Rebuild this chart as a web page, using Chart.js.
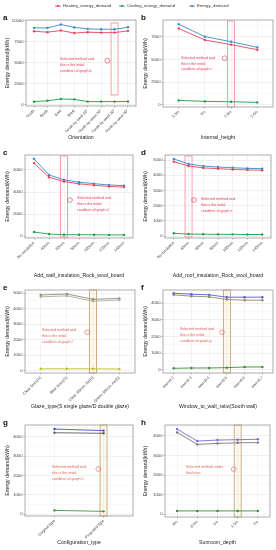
<!DOCTYPE html>
<html><head><meta charset="utf-8">
<script src="https://cdn.jsdelivr.net/npm/chart.js@4.4.1/dist/chart.umd.min.js"></script>
<style>
html,body{margin:0;padding:0;background:#fff;width:276px;height:550px;overflow:hidden;font-family:"Liberation Sans",Arial,sans-serif;}
.cv{position:absolute;}
.lab{position:absolute;font-weight:bold;font-size:8px;color:#111;line-height:8px;}
</style></head><body>
<div class="cv" style="left:0;top:0;width:276px;height:12px"><canvas id="legend" width="276" height="12" style="width:276px;height:12px"></canvas></div>
<div id="root"></div>
<script>
// ---------------- DATA ----------------
const seriesNames = ['Heating_energy_demand','Cooling_energy_demand','Energy_demand'];

const orientationCats = ['South','North','East','West','South by west 10°','South by west 20°','South by west 30°','South by west 40°'];
const orientationHeating = [8770,8650,8850,8550,8650,8600,8600,8810];
const orientationCooling = [395,510,710,670,400,400,400,420];
const orientationEnergy  = [9165,9160,9560,9220,9050,9000,9000,9230];

const heightCats = ['3.3m','3m','2.8m','2.6m'];
const heightHeating = [8410,7140,6630,6070];
const heightCooling = [480,370,330,260];
const heightEnergy  = [8890,7510,6960,6330];

const wallCats = ['No insulation','40mm','60mm','80mm','100mm','120mm','140mm'];
const wallHeating = [6620,5340,4950,4740,4620,4510,4450];
const wallCooling = [390,210,150,150,140,130,130];
const wallEnergy  = [7000,5550,5100,4890,4760,4640,4580];

const roofCats = ['No insulation','40mm','60mm','80mm','100mm','120mm','140mm'];
const roofHeating = [4890,4610,4480,4430,4380,4350,4330];
const roofCooling = [180,130,120,110,110,100,100];
const roofEnergy  = [5070,4740,4600,4540,4490,4450,4430];

const glazeCats = ['Clear 6mm(S)','Blue 6mm(S)','Clear 3/6mm Air(D)','Green 3/6mm Air(D)'];
const glazeHeating = [4770,4830,4490,4560];
const glazeCooling = [120,120,120,110];
const glazeEnergy  = [4890,4950,4610,4670];

const wwrCats = ['wwr=0.2','wwr=0.3','wwr=0.4','wwr=0.5','wwr=0.6','wwr=0.7'];
const wwrHeating = [4500,4420,4380,4220,4180,4180];
const wwrCooling = [100,120,120,140,180,180];
const wwrEnergy  = [4600,4540,4500,4360,4360,4360];

const configCats = ['Original type','Proposed type'];
const configHeating = [4210,4180];
const configCooling = [190,140];
const configEnergy  = [4400,4320];

const sunroomCats = ['0m','0.5m','1m','1.5m','2m'];
const sunroomHeating = [4180,3570,3620,3650,3660];
const sunroomCooling = [170,170,170,170,170];
const sunroomEnergy  = [4350,3740,3790,3810,3830];

const xTitles = ['Orientation','Internal_height','Add_wall_insulation_Rock_wool_board','Add_roof_insulation_Rock_wool_board',
  'Glaze_type(S single glaze/D double glaze)','Window_to_wall_ratio(South wall)','Configuration_type','Sunroom_depth'];
const yTitle = 'Energy demand(kWh)';
const panelLetters = ['a','b','c','d','e','f','g','h'];
const noteTexts = [
  ['Selected method and','this is the initial','condition of graph b'],
  ['Selected method and','this is the initial','condition of graph c'],
  ['Selected method and','this is the initial','condition of graph d'],
  ['Selected method and','this is the initial','condition of graph e'],
  ['Selected method and','this is the initial','condition of graph f'],
  ['Selected method and','this is the initial','condition of graph g'],
  ['Selected method and','this is the initial','condition of graph h'],
  ['Selected method under','final step']
];
const selectedIndex = [6,2,2,1,2,3,1,3];
const yMajor = [2500,2500,2000,1000,1000,1000,1000,1000];
const yRange = [[-120,10100],[-250,9350],[-150,7350],[-130,5330],[-150,5210],[-180,4790],[-100,4610],[-140,4560]];

// ---------------- LAYOUT / STYLE ----------------
const PANELS = [
 {cats:orientationCats, vals:[orientationHeating,orientationCooling,orientationEnergy]},
 {cats:heightCats, vals:[heightHeating,heightCooling,heightEnergy]},
 {cats:wallCats, vals:[wallHeating,wallCooling,wallEnergy]},
 {cats:roofCats, vals:[roofHeating,roofCooling,roofEnergy]},
 {cats:glazeCats, vals:[glazeHeating,glazeCooling,glazeEnergy]},
 {cats:wwrCats, vals:[wwrHeating,wwrCooling,wwrEnergy]},
 {cats:configCats, vals:[configHeating,configCooling,configEnergy]},
 {cats:sunroomCats, vals:[sunroomHeating,sunroomCooling,sunroomEnergy]},
];
const GEOM = [
 {cv:[0,12,138,132],   plot:[26,136,20,106],  xt:138, hl:[23,95],  note:[60,59.3], circ:[107.3,60.7]},
 {cv:[138,12,138,132], plot:[163,273,20,107], xt:138, hl:[21,107], note:[181,57.7], circ:[224.7,58.3]},
 {cv:[0,144,138,138],  plot:[25,133,155,238], xt:276, hl:[156,237], note:[77,198.3], circ:[70,200]},
 {cv:[138,144,138,138],plot:[165,271,155,238],xt:276, hl:[156,237], note:[201,199], circ:[194,200]},
 {cv:[0,282,138,130],  plot:[25,135,290,373], xt:406.5, hl:[290,373], note:[42,330], circ:[87.3,332.3]},
 {cv:[138,282,138,130],plot:[163,273,290,373],xt:406.5, hl:[290,373], note:[180,329.3], circ:[222,332.3]},
 {cv:[0,412,138,138],  plot:[25,133,425,516], xt:543, hl:[425,516], note:[52,467.3], circ:[98.3,469]},
 {cv:[138,412,138,138],plot:[165,270,425,517],xt:543, hl:[425,517], note:[186,466.7], circ:[233.7,469.3]},
];
const TOP_COLORS = ['#E5465F','#1E9E4A','#3A8BC9'];
const COLORS = [TOP_COLORS,TOP_COLORS,TOP_COLORS,TOP_COLORS,
  ['#A3B58F','#B9C21E','#8C8C8C'],
  ['#8E8A66','#3E8E3A','#5B5BD6'],
  ['#5E5E5E','#3E9A3A','#4A4AD0'],
  ['#7A7A7A','#3E8A3A','#7A6AD8']];
const HL_STYLE = [
 {stroke:'#F28A9A', fill:'rgba(255,255,255,0)'},{stroke:'#F28A9A', fill:'rgba(255,255,255,0)'},
 {stroke:'#F28A9A', fill:'rgba(255,255,255,0)'},{stroke:'#F28A9A', fill:'rgba(255,255,255,0)'},
 {stroke:'#C59A6A', fill:'rgba(250,235,200,0.35)'},{stroke:'#C59A6A', fill:'rgba(250,235,200,0.35)'},
 {stroke:'#C59A6A', fill:'rgba(250,235,200,0.35)'},{stroke:'#B8A080', fill:'rgba(250,235,200,0.35)'}];
const NOTE_COLOR = ['#E8375A','#E8375A','#E8375A','#E8375A','#E0605A','#E0605A','#E0605A','#D0705A'];
const FONT = '"Liberation Sans", Arial, sans-serif';
const LEGEND_X = [55,119,189];

// legend chart (drawn from its own datasets)
const legendPlugin = {
  id:'topLegend',
  afterDraw(chart){
    const ctx = chart.ctx;
    ctx.save();
    ctx.font = '4.3px '+FONT; ctx.textBaseline='middle'; ctx.textAlign='left'; 
    chart.data.datasets.forEach((ds,i)=>{
      const x = LEGEND_X[i], y = 6;
      ctx.strokeStyle = ds.borderColor; ctx.lineWidth = 0.9;
      ctx.beginPath(); ctx.moveTo(x, y); ctx.lineTo(x+6, y); ctx.stroke();
      ctx.fillStyle = ds.borderColor; ctx.beginPath(); ctx.arc(x+3, y, 1.1, 0, Math.PI*2); ctx.fill();
      ctx.fillStyle = '#333'; ctx.fillText(ds.label, x+8, y+0.3);
    });
    ctx.restore();
  }
};
new Chart(document.getElementById('legend'), {
  type:'line',
  data:{datasets: seriesNames.map((n,i)=>({label:n, data:[], borderColor:TOP_COLORS[i]}))},
  options:{responsive:false, animation:false, devicePixelRatio:1,
    plugins:{legend:{display:false}, tooltip:{enabled:false}},
    scales:{x:{display:false}, y:{display:false}}},
  plugins:[legendPlugin]
});

const decor = {
  id:'decor',
  beforeDatasetsDraw(chart, args, o){
    const {ctx} = chart; const g = o.geom; const x = chart.scales.x;
    const cx = x.getPixelForValue(o.sel);
    ctx.save();
    ctx.fillStyle = o.hl.fill; ctx.strokeStyle = o.hl.stroke; ctx.lineWidth = 0.8;
    const t = g.hl[0]-g.cv[1], b = g.hl[1]-g.cv[1];
    ctx.fillRect(cx-3.5, t, 7, b-t);
    ctx.strokeRect(cx-3.5, t, 7, b-t);
    ctx.restore();
  },
  afterDraw(chart, args, o){
    const {ctx, chartArea:ca} = chart; const g = o.geom;
    ctx.save();
    ctx.strokeStyle = '#9a9a9a'; ctx.lineWidth = 0.8;
    ctx.strokeRect(ca.left, ca.top, ca.right-ca.left, ca.bottom-ca.top);
    ctx.fillStyle = o.noteColor; ctx.font = '3.6px '+FONT; ctx.textBaseline='middle'; ctx.textAlign='left';
    o.note.forEach((s,i)=> ctx.fillText(s, g.note[0]-g.cv[0], g.note[1]-g.cv[1]+i*5.8));
    ctx.strokeStyle = o.noteColor; ctx.lineWidth = 0.6;
    ctx.beginPath(); ctx.arc(g.circ[0]-g.cv[0], g.circ[1]-g.cv[1], 2.4, 0, Math.PI*2); ctx.stroke();
    ctx.restore();
  }
};

const root = document.getElementById('root');
PANELS.forEach((p,k)=>{
  const g = GEOM[k];
  const [cx0, cy0, cw, ch] = g.cv;
  const wrap = document.createElement('div'); wrap.className='cv';
  wrap.style.left=cx0+'px'; wrap.style.top=cy0+'px'; wrap.style.width=cw+'px'; wrap.style.height=ch+'px';
  const c = document.createElement('canvas'); c.width=cw; c.height=ch; c.style.width=cw+'px'; c.style.height=ch+'px';
  wrap.appendChild(c); root.appendChild(wrap);
  const lab = document.createElement('div'); lab.className='lab'; lab.textContent = panelLetters[k];
  lab.style.left=(cx0+3)+'px'; lab.style.top=(g.plot[2]-6)+'px'; root.appendChild(lab);

  const padTop = g.plot[2]-cy0, padRight = cx0+cw-g.plot[1];
  const yW = g.plot[0]-cx0, xH = cy0+ch-g.plot[3];
  const major = yMajor[k], minor = major/2;
  const [ymin,ymax] = yRange[k];
  const n = p.cats.length;
  const xtFont = 5.2, xtLH = xtFont*1.2;
  const xtPadBottom = (cy0+ch) - g.xt - xtLH/2;
  const ytFont = 5.2, ytLH = ytFont*1.2;
  const ytPad = 8 - ytLH/2;

  new Chart(c, {
    type:'line',
    data:{ datasets: seriesNames.map((nm,i)=>({
      label:nm, data:p.vals[i].map((v,j)=>({x:j,y:v})),
      borderColor:COLORS[k][i], backgroundColor:COLORS[k][i], borderWidth:0.9,
      pointRadius:1.2, pointHoverRadius:1.2, pointBorderWidth:0, tension:0
    }))},
    options:{
      responsive:false, animation:false, devicePixelRatio:1,
      layout:{padding:{top:padTop,right:padRight,left:0,bottom:0}},
      plugins:{legend:{display:false}, tooltip:{enabled:false},
        decor:{geom:g, sel:selectedIndex[k], hl:HL_STYLE[k], note:noteTexts[k], noteColor:NOTE_COLOR[k]}},
      scales:{
        x:{type:'linear', min:-0.6, max:n-0.4,
          afterBuildTicks:s=>{ s.ticks = p.cats.map((_,i)=>({value:i})); },
          afterFit:s=>{ s.height = xH; s.paddingLeft=0; s.paddingRight=0; s.paddingTop=0; s.paddingBottom=0; },
          border:{display:false},
          grid:{color:'#ececec', lineWidth:0.6, drawTicks:true, tickLength:1.5, tickColor:'#888'},
          ticks:{autoSkip:false, maxRotation:45, minRotation:45, padding:1, color:'#444',
            font:{family:FONT,size:3.9}, callback:v=>p.cats[v]},
          title:{display:true, text:xTitles[k], color:'#222', font:{family:FONT,size:xtFont,lineHeight:1.2},
            padding:{top:0,bottom:xtPadBottom}}
        },
        y:{type:'linear', min:ymin, max:ymax,
          afterBuildTicks:s=>{ const t=[]; for(let v=Math.ceil(ymin/minor)*minor; v<=ymax; v+=minor) t.push({value:v}); s.ticks=t; },
          afterFit:s=>{ s.width = yW; s.paddingLeft=0; s.paddingRight=0; s.paddingTop=0; s.paddingBottom=0; },
          border:{display:false},
          grid:{color:ctx=>(ctx.tick && ctx.tick.value % major === 0) ? '#e6e6e6' : '#f3f3f3', lineWidth:0.6,
            drawTicks:true, tickLength:1.5, tickColor:ctx=>(ctx.tick && ctx.tick.value % major === 0) ? '#888' : 'rgba(0,0,0,0)'},
          ticks:{padding:1, color:'#444', font:{family:FONT,size:4.2}, callback:v=> (v % major === 0) ? String(v) : ''},
          title:{display:true, text:yTitle, color:'#222', font:{family:FONT,size:ytFont,lineHeight:1.2},
            padding:{top:ytPad,bottom:0}}
        }
      }
    },
    plugins:[decor]
  });
});
</script>
</body></html>
